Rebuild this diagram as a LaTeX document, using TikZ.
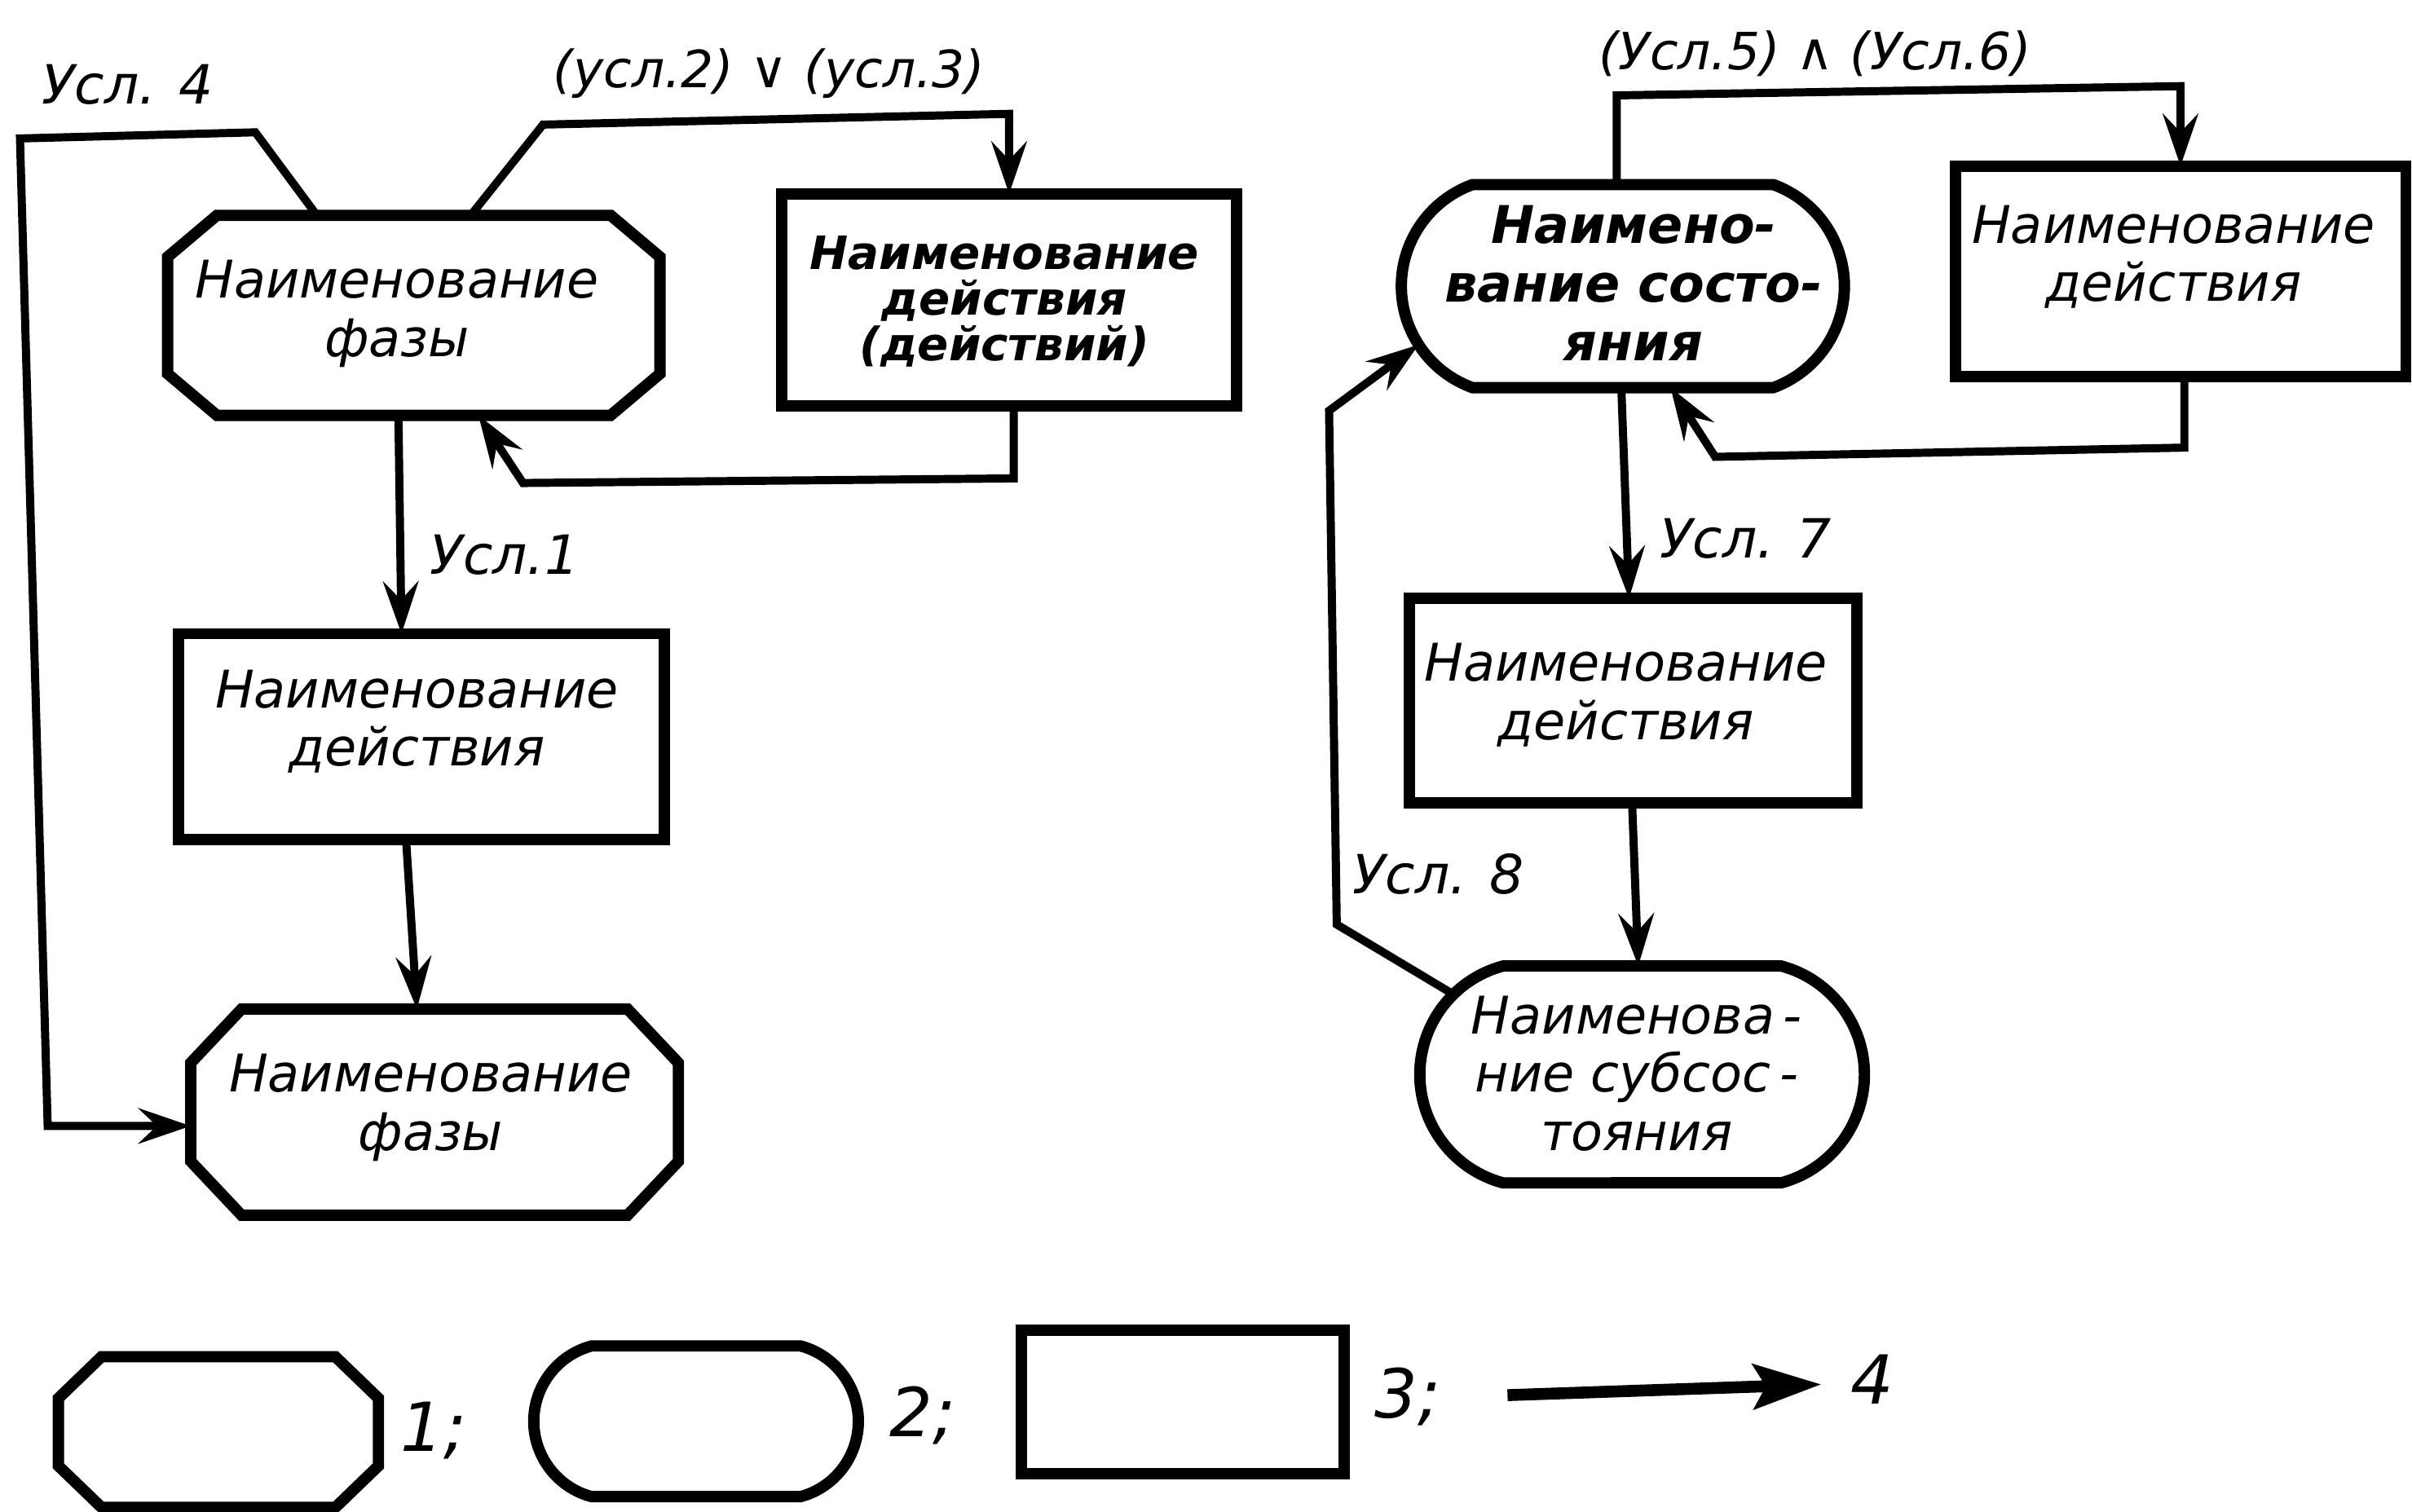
\documentclass[tikz,border=0pt]{standalone}
\usepackage{fontspec}
\newfontfamily\gost{DejaVu Sans}
\usetikzlibrary{shapes.misc,arrows.meta}
\tikzset{
  box/.style={line width=2.1pt, line join=miter},
  conn/.style={line width=1.5pt, line join=miter},
  arr/.style={conn, -{Stealth[length=3.4mm,width=2.3mm,inset=1.2mm]}},
  shp/.style={inner sep=0pt, outer sep=0pt},
  rect/.style={shp, draw, box, rectangle},
  stad/.style={shp, draw, box, rounded rectangle, rounded rectangle arc length=#1},
  txt/.style={inner sep=0pt, align=center, font=\gost\itshape\fontsize{9.6}{10.8}\selectfont},
  btxt/.style={inner sep=0pt, align=center, font=\gost\bfseries\itshape\fontsize{#1}{#1}\selectfont},
  lab/.style={inner sep=0pt, font=\gost\itshape\fontsize{10}{12}\selectfont},
  leg/.style={inner sep=0pt, font=\gost\itshape\fontsize{12.5}{14}\selectfont}
}
\newcommand\octdraw[3]{\draw[box] ([xshift=#2]#1.north west) -- ([xshift=-#2]#1.north east) -- ([yshift=-#3]#1.north east) -- ([yshift=#3]#1.south east) -- ([xshift=-#2]#1.south east) -- ([xshift=#2]#1.south west) -- ([yshift=#3]#1.south west) -- ([yshift=-#3]#1.north west) -- cycle;}
\begin{document}
\begin{tikzpicture}[x=0.1mm,y=-0.1mm]
\useasboundingbox (0,0) rectangle (1568,982.5);

% ---- left chart ----
\node[shp, minimum width=32mm, minimum height=13mm] (A) at (269,205) {};
\octdraw{A}{3.2mm}{2.7mm}
\node[txt] (At) at (258,204) {Наименование\\фазы};

\node[rect, minimum width=29.6mm, minimum height=13.8mm] (C) at (656,195) {};
\node[btxt=8.5] (Ct) at (653,196) {Наименование\\действия\\(действий)};

\node[rect, minimum width=31.6mm, minimum height=13.4mm] (B) at (274,479) {};
\node[txt] (Bt) at (271,469) {Наименование\\действия};

\node[shp, minimum width=31.7mm, minimum height=13.4mm] (D) at (282.5,723) {};
\octdraw{D}{3.3mm}{3.5mm}
\node[txt] (Dt) at (280,720) {Наименование\\фазы};

% ---- right chart ----
\node[stad=140, minimum width=28.8mm, minimum height=13.2mm] (E) at (1055,186) {};
\node[btxt=9.6, font=\gost\bfseries\itshape\fontsize{9.6}{10.8}\selectfont] (Et) at (1062,184) {Наимено-\\вание состо-\\яния};

\node[rect, minimum width=29.3mm, minimum height=13.7mm] (F) at (1417.5,176.5) {};
\node[txt] (Ft) at (1413,167) {Наименование\\действия};

\node[rect, minimum width=29.1mm, minimum height=13.3mm] (G) at (1061.5,455.5) {};
\node[txt] (Gt) at (1057,452) {Наименование\\действия};

\node[stad=150, minimum width=28.9mm, minimum height=14.1mm] (H) at (1067.5,698.5) {};
\node[txt] (Ht) at (1064,698) {Наименова\,-\\ние субсос\,-\\тояния};

% ---- connectors, left ----
\draw[arr] ([xshift=9.7mm]A.north west) -- (166,86) -- (13,90) -- (31,732) -- ([yshift=-0.9mm]D.west);
\draw[arr] ([xshift=19.7mm]A.north west) -- (353,81) -- (656,74) -- (C.north);
\draw[arr] ([xshift=0.3mm]C.south) -- (659,311) -- (340,314) -- ([xshift=4.2mm]A.south);
\draw[arr] ([xshift=-1.0mm]A.south) -- ([xshift=-1.3mm]B.north);
\draw[arr] ([xshift=-1.0mm]B.south) -- ([xshift=-1.15mm]D.north);

% ---- connectors, right ----
\draw[arr] ([xshift=-0.4mm]E.north) -- (1051,62) -- (1417.5,56) -- (F.north);
\draw[arr] ([xshift=0.25mm]F.south) -- (1420,291) -- (1115,297) -- ([xshift=3.1mm]E.south);
\draw[arr] ([xshift=-0.1mm]E.south) -- ([xshift=-0.25mm]G.north);
\draw[arr] ([xshift=-0.05mm]G.south) -- ([xshift=-0.25mm]H.north);
\draw[arr] (H.157) -- (869,601) -- (864,267) -- (E.196);

% ---- condition labels ----
\node[lab] (l4) at (83,55) {Усл. 4};
\node[lab, font=\gost\itshape\fontsize{9.5}{12}\selectfont] (l23) at (500,48) {(усл.2) ∨ (усл.3)};
\node[lab] (l1) at (328,361) {Усл.1};
\node[lab, font=\gost\itshape\fontsize{9.5}{12}\selectfont] (l56) at (1180,35) {(Усл.5) ∧ (Усл.6)};
\node[lab] (l7) at (1135,350) {Усл. 7};
\node[lab] (l8) at (935,568) {Усл. 8};

% ---- legend ----
\node[shp, minimum width=20.8mm, minimum height=9.8mm] (L1) at (142,931) {};
\octdraw{L1}{2.8mm}{2.7mm}
\node[leg] (L1t) at (282,930) {1;};
\node[stad=150, minimum width=21.1mm, minimum height=9.8mm] (L2) at (452.5,924) {};
\node[leg] (L2t) at (600,920) {2;};
\node[rect, minimum width=21mm, minimum height=9.3mm] (L3) at (769,911.5) {};
\node[leg] (L3t) at (915,908) {3;};
\coordinate (q1) at (980,907);
\coordinate (q2) at (1184,900);
\draw[line width=2.2pt, -{Stealth[length=4.4mm,width=2.9mm,inset=0.8mm]}] (q1) -- (q2);
\node[leg] (L4t) at (1217,897) {4};
\end{tikzpicture}
\end{document}
